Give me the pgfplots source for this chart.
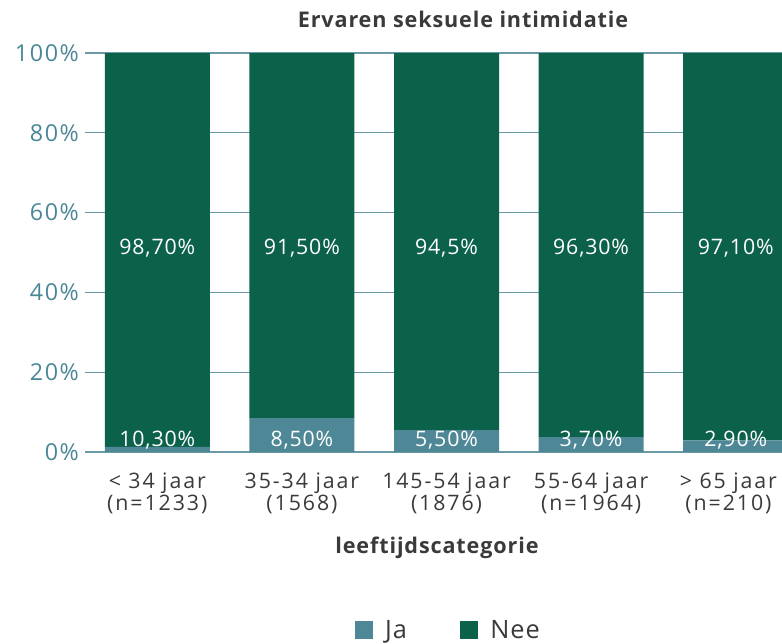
\documentclass[border=0pt]{standalone}
\usepackage{pgfplots}
\pgfplotsset{compat=1.18}
\usepackage{fontspec}
\setmainfont{Open Sans}
\newfontfamily\lsfont[LetterSpace=9]{Open Sans}
\newfontfamily\vsfont[LetterSpace=4]{Open Sans}
\newfontfamily\tsfont[LetterSpace=7]{Open Sans}
\newfontfamily\bsfont[LetterSpace=4]{Open Sans}
\definecolor{ja}{HTML}{4E8896}
\definecolor{nee}{HTML}{0B614A}
\definecolor{tickc}{HTML}{4A8796}
\definecolor{gridc}{HTML}{6A9AA8}
\definecolor{txt}{HTML}{3A3A3A}
\tikzset{vlab/.style={text=white, anchor=base, font=\vsfont\fontsize{16}{18}\selectfont}}
\begin{document}
\begin{tikzpicture}
\begin{axis}[
  scale only axis, width=522.75pt, height=299.25pt,
  ybar stacked, bar width=78.75pt,
  xmin=-0.5, xmax=4.32, ymin=0, ymax=100,
  clip=false,
  xtick={0,1,2,3,4},
  xticklabels={{< 34 jaar\\(n=1233)},{35-34 jaar\\(1568)},{145-54 jaar\\(1876)},{55-64 jaar\\(n=1964)},{\hspace*{-11pt}> 65 jaar\\\hspace*{-11pt}(n=210)}},
  xticklabel style={align=center, font=\lsfont\fontsize{16}{15}\selectfont, text=txt, yshift=-12pt},
  ytick={0,20,40,60,80,100},
  yticklabels={0\%,20\%,40\%,60\%,80\%,100\%},
  yticklabel style={font=\tsfont\fontsize{17.5}{18}\selectfont, text=tickc, xshift=-1pt},
  major tick length=0pt,
  axis line style={draw=none},
  ymajorgrids, grid style={gridc, line width=0.8pt},
  /pgf/number format/assume math mode=true,
  legend style={at={(0.522,-0.446)}, anchor=center, draw=none, legend columns=2,
    font=\vsfont\fontsize{19}{19}\selectfont, text=txt,
    /tikz/every odd column/.append style={column sep=7pt},
    /tikz/every even column/.append style={column sep=38pt}},
  legend image code/.code={\fill[#1] (0pt,-6.5pt) rectangle (13.5pt,7pt);},
]
\addplot[fill=ja, draw=none] coordinates {(0,1.3) (1,8.5) (2,5.5) (3,3.7) (4,2.9)};
\addplot[fill=nee, draw=none] coordinates {(0,98.7) (1,91.5) (2,94.5) (3,96.3) (4,97.1)};
\legend{Ja,Nee}
\coordinate (n0) at (axis cs:0,49.6);
\coordinate (n1) at (axis cs:1,49.6);
\coordinate (n2) at (axis cs:2,49.6);
\coordinate (n3) at (axis cs:3,49.6);
\coordinate (n4) at (axis cs:4,49.6);
\coordinate (j0) at (axis cs:0,1.5);
\coordinate (j1) at (axis cs:1,1.5);
\coordinate (j2) at (axis cs:2,1.5);
\coordinate (j3) at (axis cs:3,1.5);
\coordinate (j4) at (axis cs:4,1.5);
\end{axis}
\node[vlab] at (n0) {98,70\%};
\node[vlab] at (n1) {91,50\%};
\node[vlab] at (n2) {94,5\%};
\node[vlab] at (n3) {96,30\%};
\node[vlab] at (n4) {97,10\%};
\node[vlab] at (j0) {10,30\%};
\node[vlab] at (j1) {8,50\%};
\node[vlab] at (j2) {5,50\%};
\node[vlab] at (j3) {3,70\%};
\node[vlab] at (j4) {2,90\%};
\node[font=\bsfont\bfseries\fontsize{16.2}{16}\selectfont, text=txt, anchor=base] at ([xshift=283.5pt,yshift=18.75pt]current axis.north west) {Ervaren seksuele intimidatie};
\node[font=\bsfont\bfseries\fontsize{16.2}{16}\selectfont, text=txt] at ([xshift=264pt,yshift=-72pt]current axis.south west) {leeftijdscategorie};
\pgfresetboundingbox
\path[use as bounding box] ([xshift=-63.75pt,yshift=-143.25pt]current axis.south west) rectangle ([yshift=39.75pt]current axis.north east);
\end{tikzpicture}
\end{document}
